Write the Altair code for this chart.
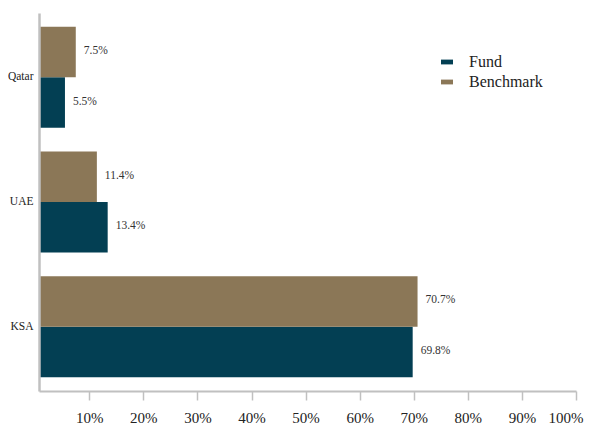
import altair as alt
import pandas as pd

countries = ["Qatar", "UAE", "KSA"]
fund = [5.5, 13.4, 69.8]
benchmark = [7.5, 11.4, 70.7]
series_names = ["Fund", "Benchmark"]
colors = ["#033f53", "#8b7757"]
x_ticks = [10, 20, 30, 40, 50, 60, 70, 80, 90, 100]

rows = []
for c, f, b in zip(countries, fund, benchmark):
    rows.append({"country": c, "series": "Fund", "value": f})
    rows.append({"country": c, "series": "Benchmark", "value": b})
df = pd.DataFrame(rows)
df["label"] = df["value"].map(lambda v: f"{v:.1f}%")

FONT = "Liberation Serif"

y_enc = alt.Y(
    "country:N",
    sort=countries,
    scale=alt.Scale(paddingInner=0.19, paddingOuter=0.11),
    axis=alt.Axis(
        title=None,
        ticks=False,
        domainColor="#c0c0c0",
        domainWidth=2.5,
        labelFont=FONT,
        labelFontSize=11.5,
        labelColor="#222222",
        labelPadding=6,
        grid=False,
        zindex=1,
    ),
)
yoff_enc = alt.YOffset(
    "series:N", sort=["Benchmark", "Fund"], scale=alt.Scale(paddingInner=0, paddingOuter=0)
)
x_enc = alt.X(
    "value:Q",
    scale=alt.Scale(domain=[0.7, 100], nice=False, zero=False),
    axis=alt.Axis(
        title=None,
        values=x_ticks,
        labelExpr="datum.value + '%'",
        labelFlush=True,
        labelFlushOffset=7,
        grid=False,
        domainColor="#c0c0c0",
        domainWidth=2,
        tickColor="#c0c0c0",
        tickWidth=1.5,
        tickSize=9,
        labelFont=FONT,
        labelFontSize=15,
        labelColor="#222222",
        labelPadding=10,
        zindex=1,
    ),
)

bars = alt.Chart(df).mark_bar(clip=True).encode(
    y=y_enc,
    yOffset=yoff_enc,
    x=x_enc,
    color=alt.Color(
        "series:N",
        scale=alt.Scale(domain=series_names, range=colors),
        legend=alt.Legend(
            title=None,
            orient="none",
            legendX=400,
            legendY=41,
            symbolType="M-1,-0.4H1V0.4H-1Z",
            symbolSize=144,
            symbolStrokeWidth=0,
            labelFont=FONT,
            labelFontSize=16,
            labelColor="#222222",
            labelOffset=14,
            rowPadding=4,
            padding=0,
        ),
    ),
)

labels = alt.Chart(df).mark_text(
    align="left", baseline="middle", dx=8, dy=-1, font=FONT, fontSize=11.5, color="#333333"
).encode(
    y=alt.Y("country:N", sort=countries),
    yOffset=alt.YOffset("series:N", sort=["Benchmark", "Fund"]),
    x=alt.X("value:Q"),
    text="label:N",
)

chart = (
    alt.layer(bars, labels)
    .properties(
        width=537,
        height=378,
        background="white",
        autosize=alt.AutoSizeParams(type="none"),
        padding={"left": 31, "top": 5, "right": 9, "bottom": 33},
    )
    .configure_view(strokeWidth=0, stroke="transparent")
)

chart.save("out.html", embed_options={"renderer": "svg", "actions": False})
